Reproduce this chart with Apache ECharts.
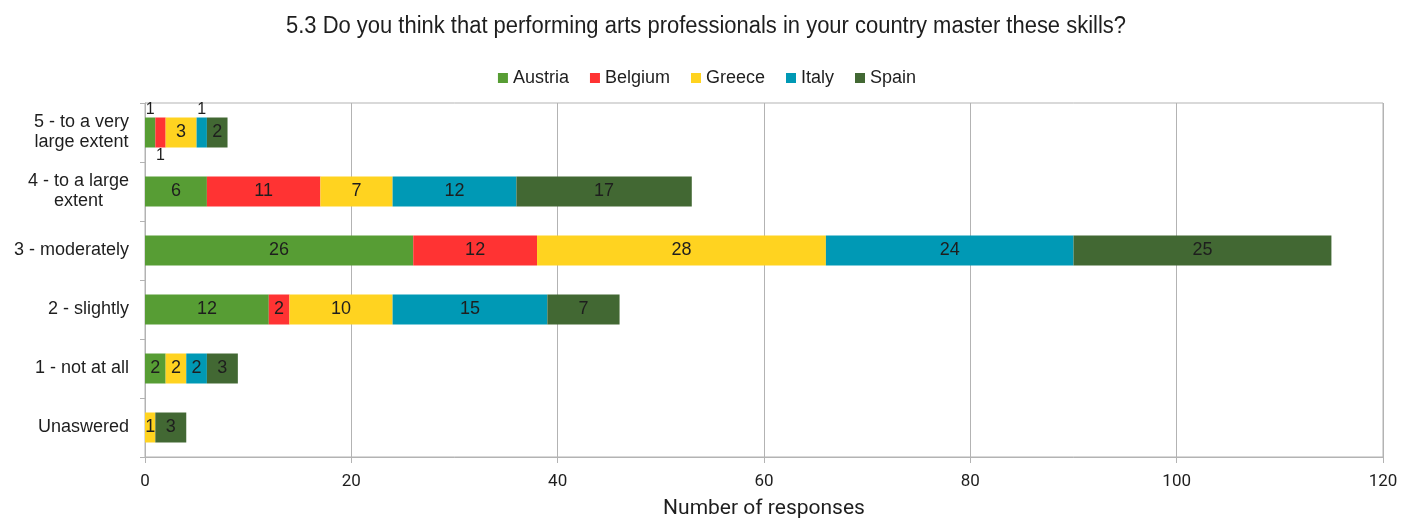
<!DOCTYPE html>
<html>
<head>
<meta charset="utf-8">
<script src="https://cdn.jsdelivr.net/npm/echarts@6/dist/echarts.min.js"></script>
<style>
  html, body { margin: 0; padding: 0; background: #ffffff; }
  #chart { width: 1414px; height: 518px; }
</style>
</head>
<body>
<div id="chart"></div>
<script>
// Answer levels, top row first
const categories = [
  '5 - to a very\nlarge extent',
  '4 - to a large\nextent',
  '3 - moderately',
  '2 - slightly',
  '1 - not at all',
  'Unaswered'
];

// Responses per country, same order as categories
const austria = [1, 6, 26, 12, 2, 0];
const belgium = [1, 11, 12, 2, 0, 0];
const greece  = [3, 7, 28, 10, 2, 1];
const italy   = [1, 12, 24, 15, 2, 0];
const spain   = [2, 17, 25, 7, 3, 3];

const xTicks = { min: 0, max: 120, interval: 20 };

const titleText = '5.3 Do you think that performing arts professionals in your country master these skills?';

const countries = [
  { name: 'Austria', values: austria, color: '#579d34' },
  { name: 'Belgium', values: belgium, color: '#ff3333' },
  { name: 'Greece',  values: greece,  color: '#ffd320' },
  { name: 'Italy',   values: italy,   color: '#0099b5' },
  { name: 'Spain',   values: spain,   color: '#426833' }
];

// Tiny segments in the top row carry their label outside the bar
const outsideLabels = {
  'Austria-0': 'top',
  'Belgium-0': 'bottom',
  'Italy-0': 'top'
};

const TEXT = '#1e1e1e';

// Narrow title: regular sans squeezed horizontally to a fixed width
const TITLE_FONT = '23px "Liberation Sans"';
const TITLE_WIDTH = 840;
const measureCtx = document.createElement('canvas').getContext('2d');
measureCtx.font = TITLE_FONT;
const titleScale = TITLE_WIDTH / measureCtx.measureText(titleText).width;

const series = countries.map(c => ({
  name: c.name,
  type: 'bar',
  stack: 'total',
  barWidth: 30,
  itemStyle: { color: c.color },
  label: {
    show: true,
    position: 'inside',
    color: TEXT,
    fontFamily: 'Liberation Sans',
    fontSize: 18,
    formatter: p => (p.value ? String(p.value) : '')
  },
  data: c.values.map((v, i) => {
    const pos = outsideLabels[c.name + '-' + i];
    if (pos) {
      return {
        value: v,
        label: { position: pos, distance: 0, fontSize: 16, color: TEXT }
      };
    }
    return v;
  })
}));

const chart = echarts.init(document.getElementById('chart'), null, { renderer: 'canvas' });

chart.setOption({
  animation: false,
  backgroundColor: '#ffffff',
  color: countries.map(c => c.color),
  graphic: [{
    type: 'text',
    x: 706,
    y: 27,
    scaleX: titleScale,
    scaleY: 1,
    silent: true,
    style: {
      text: titleText,
      font: TITLE_FONT,
      fill: TEXT,
      align: 'center',
      verticalAlign: 'middle'
    }
  }],
  legend: {
    top: 64,
    left: 'center',
    icon: 'rect',
    itemWidth: 10,
    itemHeight: 10,
    itemGap: 21,
    textStyle: {
      fontFamily: 'Liberation Sans',
      fontSize: 18,
      color: TEXT
    },
    data: countries.map(c => c.name)
  },
  grid: {
    left: 145,
    right: 31,
    top: 103,
    bottom: 61,
    outerBoundsMode: 'none',
    containLabel: false,
    show: true,
    borderColor: '#b3b3b3',
    borderWidth: 1
  },
  xAxis: {
    type: 'value',
    min: xTicks.min,
    max: xTicks.max,
    interval: xTicks.interval,
    name: 'Number of responses',
    nameLocation: 'middle',
    nameGap: 41,
    nameTextStyle: {
      fontFamily: 'Roboto',
      fontSize: 21,
      color: TEXT
    },
    axisLine: { show: true, lineStyle: { color: '#b3b3b3' } },
    axisTick: { show: true, length: 6, lineStyle: { color: '#b3b3b3' } },
    axisLabel: {
      margin: 16,
      fontFamily: 'Roboto',
      fontSize: 17,
      color: TEXT
    },
    splitLine: { show: true, lineStyle: { color: '#b3b3b3' } }
  },
  yAxis: {
    type: 'category',
    inverse: true,
    data: categories,
    axisLine: { show: true, lineStyle: { color: '#b3b3b3' } },
    axisTick: { show: true, length: 5, lineStyle: { color: '#b3b3b3' } },
    axisLabel: {
      margin: 16,
      fontFamily: 'Liberation Sans',
      fontSize: 18,
      lineHeight: 20,
      color: TEXT,
      formatter: v => v.split('\n').map(l => '{c|' + l + '}').join('\n'),
      rich: {
        c: {
          align: 'center',
          fontFamily: 'Liberation Sans',
          fontSize: 18,
          lineHeight: 20,
          color: TEXT
        }
      }
    },
    splitLine: { show: false }
  },
  series: series
});
</script>
</body>
</html>
